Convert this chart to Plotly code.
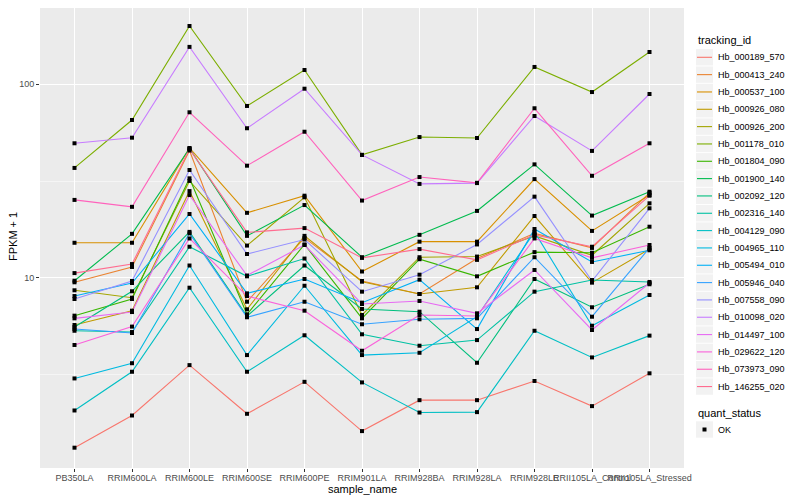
import plotly.graph_objects as go

samples = ["PB350LA", "RRIM600LA", "RRIM600LE", "RRIM600SE", "RRIM600PE", "RRIM901LA",
           "RRIM928BA", "RRIM928LA", "RRIM928LE", "RRII105LA_Control", "RRII105LA_Stressed"]

tracking_ids = ["Hb_000189_570", "Hb_000413_240", "Hb_000537_100", "Hb_000926_080", "Hb_000926_200",
                "Hb_001178_010", "Hb_001804_090", "Hb_001900_140", "Hb_002092_120", "Hb_002316_140",
                "Hb_004129_090", "Hb_004965_110", "Hb_005494_010", "Hb_005946_040", "Hb_007558_090",
                "Hb_010098_020", "Hb_014497_100", "Hb_029622_120", "Hb_073973_090", "Hb_146255_020"]

line_colors = ["#F8766D", "#EA8331", "#D89000", "#C09B00", "#A3A500", "#7CAE00", "#39B600", "#00BB4E",
               "#00BF7D", "#00C1A3", "#00BFC4", "#00BAE0", "#00B0F6", "#35A2FF", "#9590FF", "#C77CFF",
               "#E76BF3", "#FA62DB", "#FF62BC", "#FF6C90"]

# FPKM + 1 values per sample (in the order of `samples`)
hb_000189_570 = [1.33, 1.95, 3.55, 1.99, 2.91, 1.62, 2.34, 2.34, 2.94, 2.18, 3.22]
hb_000413_240 = [9.50, 11.4, 45.5, 7.54, 16.1, 9.65, 8.27, 12.6, 17.0, 14.3, 27.5]
hb_000537_100 = [15.2, 15.2, 46.9, 21.7, 26.6, 10.8, 15.4, 15.4, 32.4, 17.5, 26.8]
hb_000926_080 = [5.72, 6.78, 28.1, 6.89, 16.5, 9.57, 8.27, 8.95, 20.9, 9.46, 14.1]
hb_000926_200 = [8.64, 7.91, 31.7, 14.7, 26.1, 6.44, 12.8, 12.9, 16.5, 13.1, 24.3]
hb_001178_010 = [37.0, 65.4, 200.0, 77.3, 118.5, 43.2, 53.4, 52.8, 122.9, 91.2, 146.8]
hb_001804_090 = [6.39, 7.79, 32.7, 6.49, 14.9, 6.19, 12.5, 10.2, 13.6, 13.5, 18.4]
hb_001900_140 = [9.68, 16.9, 46.6, 16.5, 23.8, 12.8, 16.7, 22.2, 38.6, 21.0, 27.9]
hb_002092_120 = [5.58, 8.54, 17.3, 6.36, 11.6, 6.92, 6.70, 3.65, 9.88, 7.06, 9.28]
hb_002316_140 = [5.34, 5.26, 14.5, 10.2, 12.6, 5.12, 4.47, 4.78, 8.50, 9.76, 9.54]
hb_004129_090 = [2.07, 3.28, 8.91, 3.28, 5.06, 2.89, 2.02, 2.03, 5.34, 3.89, 5.04]
hb_004965_110 = [3.03, 3.63, 11.6, 4.00, 9.12, 4.00, 4.11, 6.31, 17.3, 5.67, 8.17]
hb_005494_010 = [8.07, 9.42, 21.4, 8.33, 9.88, 7.46, 9.80, 5.45, 17.9, 12.1, 13.9]
hb_005946_040 = [5.45, 5.20, 17.0, 6.27, 7.54, 5.77, 6.12, 6.19, 12.8, 6.31, 14.3]
hb_007558_090 = [7.79, 9.65, 36.1, 13.3, 15.8, 8.50, 10.4, 14.9, 26.3, 9.65, 22.9]
hb_010098_020 = [49.6, 53.0, 156.0, 59.3, 94.9, 43.2, 30.6, 30.9, 68.6, 45.3, 89.1]
hb_014497_100 = [6.19, 6.67, 26.8, 10.3, 14.8, 7.34, 7.61, 6.57, 11.0, 5.39, 9.42]
hb_029622_120 = [4.51, 5.61, 16.0, 8.07, 6.78, 4.21, 6.44, 6.36, 16.0, 12.7, 14.8]
hb_073973_090 = [25.3, 23.3, 71.7, 38.0, 56.9, 25.1, 33.2, 31.0, 75.2, 33.7, 49.6]
hb_146255_020 = [10.6, 11.8, 46.3, 17.2, 18.1, 12.7, 14.1, 12.4, 16.7, 14.5, 26.6]

series_values = [hb_000189_570, hb_000413_240, hb_000537_100, hb_000926_080, hb_000926_200,
                 hb_001178_010, hb_001804_090, hb_001900_140, hb_002092_120, hb_002316_140,
                 hb_004129_090, hb_004965_110, hb_005494_010, hb_005946_040, hb_007558_090,
                 hb_010098_020, hb_014497_100, hb_029622_120, hb_073973_090, hb_146255_020]

quant_status = ["OK"]
y_ticks = [10, 100]
y_minor = [3.1623, 31.623]

FONT = "Liberation Sans, Arial, sans-serif"
OFF = 8                      # page body margin in the browser
W, H = 800 - OFF, 500 - OFF
# plot-area box in screen pixels of the 800x500 window
S_L, S_R, S_T, S_B = 40, 684, 8, 468
PL, PR, PT, PB = S_L - OFF, S_R - OFF, S_T - OFF, S_B - OFF


def px(sx):
    return (sx - OFF - PL) / (PR - PL)


def py(sy):
    return (PB - (sy - OFF)) / (PB - PT)


fig = go.Figure()
for name, vals, col in zip(tracking_ids, series_values, line_colors):
    fig.add_trace(go.Scatter(x=samples, y=vals, mode="lines", name=name,
                             line=dict(color=col, width=1.1), showlegend=False))

all_x = [s for vals in series_values for s in samples]
all_y = [v for vals in series_values for v in vals]
fig.add_trace(go.Scatter(x=all_x, y=all_y, mode="markers", name=quant_status[0],
                         marker=dict(symbol="square", size=4, color="black"),
                         showlegend=False))

# ---- ggplot-style legends drawn by hand ----
shapes = []
annotations = []
KX0, KX1 = 696, 713
ITEM0, STEP = 57.3, 17.33
annotations.append(dict(xref="paper", yref="paper", x=px(696), y=py(40.5), text="tracking_id",
                        showarrow=False, xanchor="left", yanchor="middle",
                        font=dict(size=11, color="black", family=FONT)))
for i, (name, col) in enumerate(zip(tracking_ids, line_colors)):
    cy = ITEM0 + i * STEP
    shapes.append(dict(type="rect", xref="paper", yref="paper", x0=px(KX0), x1=px(KX1),
                       y0=py(cy - 8.2), y1=py(cy + 8.2), fillcolor="#F2F2F2", line=dict(width=0),
                       layer="above"))
    shapes.append(dict(type="line", xref="paper", yref="paper", x0=px(KX0 + 1), x1=px(KX1 - 1),
                       y0=py(cy), y1=py(cy), line=dict(color=col, width=1.1), layer="above"))
    annotations.append(dict(xref="paper", yref="paper", x=px(716), y=py(cy), text=name,
                            showarrow=False, xanchor="left", yanchor="middle",
                            font=dict(size=9, color="black", family=FONT)))

annotations.append(dict(xref="paper", yref="paper", x=px(696), y=py(412.5), text="quant_status",
                        showarrow=False, xanchor="left", yanchor="middle",
                        font=dict(size=11, color="black", family=FONT)))
ok_y = 429.5
shapes.append(dict(type="rect", xref="paper", yref="paper", x0=px(KX0), x1=px(KX1),
                   y0=py(ok_y - 8.2), y1=py(ok_y + 8.2), fillcolor="#F2F2F2", line=dict(width=0),
                   layer="above"))
shapes.append(dict(type="rect", xref="paper", yref="paper", x0=px(702.5), x1=px(706.5),
                   y0=py(ok_y - 2), y1=py(ok_y + 2), fillcolor="black", line=dict(width=0),
                   layer="above"))
annotations.append(dict(xref="paper", yref="paper", x=px(716), y=py(ok_y), text=quant_status[0],
                        showarrow=False, xanchor="left", yanchor="middle",
                        font=dict(size=9, color="black", family=FONT)))

# axis titles
annotations.append(dict(xref="paper", yref="paper", x=px(362), y=py(489), text="sample_name",
                        showarrow=False, xanchor="center", yanchor="middle",
                        font=dict(size=11, color="black", family=FONT)))
annotations.append(dict(xref="paper", yref="paper", x=px(13), y=py(236), text="FPKM + 1",
                        showarrow=False, xanchor="center", yanchor="middle", textangle=-90,
                        font=dict(size=11, color="black", family=FONT)))

# log value at the top edge of the reference panel (screen y = 8)
y_top = 2 + (84.3 - S_T) / 193.7

fig.update_layout(
    width=W, height=H,
    margin=dict(l=PL, r=W - PR, t=PT, b=H - PB, autoexpand=False),
    paper_bgcolor="white", plot_bgcolor="#EBEBEB",
    font=dict(family=FONT, color="black"),
    showlegend=False,
    shapes=shapes, annotations=annotations,
)

fig.update_xaxes(type="category", categoryorder="array", categoryarray=samples,
                 range=[-0.6, len(samples) - 0.4], tickangle=0, automargin=False,
                 showgrid=True, gridcolor="white", gridwidth=1.1, zeroline=False,
                 ticks="outside", ticklen=3, tickcolor="#333333",
                 tickfont=dict(size=9, color="#4D4D4D"), ticklabelstandoff=-2,
                 showline=False)

fig.update_yaxes(type="log", range=[0.019, y_top], automargin=False,
                 tickvals=y_ticks, ticktext=[str(t) for t in y_ticks],
                 showgrid=True, gridcolor="white", gridwidth=1.1, zeroline=False,
                 minor=dict(tickvals=y_minor, showgrid=True, gridcolor="#F5F5F5", gridwidth=0.6, ticks=""),
                 ticks="outside", ticklen=3, tickcolor="#333333",
                 tickfont=dict(size=9, color="#4D4D4D"),
                 showline=False)

fig.write_html("out.html")
